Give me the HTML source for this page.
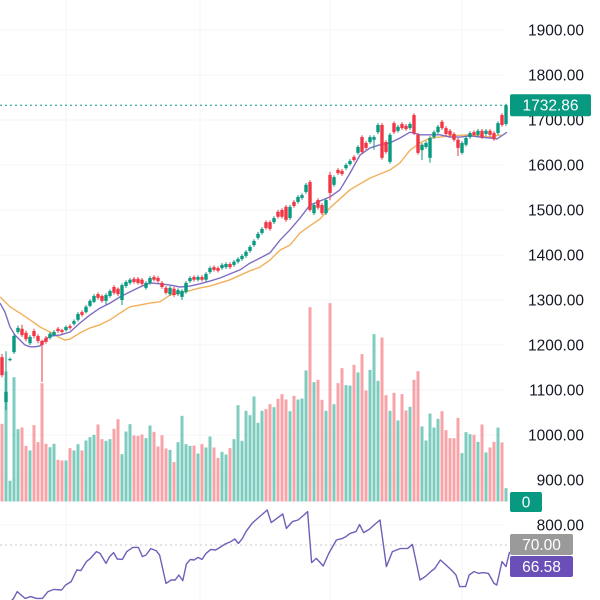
<!DOCTYPE html>
<html><head><meta charset="utf-8">
<style>
html,body{margin:0;padding:0;background:#fff;}
#wrap{position:relative;width:600px;height:600px;overflow:hidden;font-family:"Liberation Sans",sans-serif;}
svg{position:absolute;left:0;top:0;}
</style></head>
<body>
<div id="wrap">
<svg id="chart" width="600" height="600"></svg>
</div>
<script>
const opens=[1173,1073,1167,1184,1229,1236,1227,1204,1231,1220,1209,1216,1216,1222,1236,1233,1233,1242,1247,1256,1273,1273,1287,1296,1313,1309,1298,1309,1329,1325,1300,1331,1338,1347,1347,1345,1327,1338,1351,1349,1338,1327,1313,1325,1313,1307,1318,1342,1351,1345,1351,1345,1362,1373,1371,1371,1373,1380,1378,1385,1391,1398,1409,1422,1438,1449,1473,1473,1473,1496,1500,1507,1482,1518,1518,1527,1540,1562,1493,1522,1511,1493,1578,1556,1589,1587,1593,1602,1618,1627,1662,1649,1651,1656,1673,1689,1651,1607,1693,1676,1691,1687,1682,1711,1667,1633,1640,1616,1662,1673,1696,1682,1676,1669,1656,1627,1645,1662,1673,1667,1676,1669,1676,1671,1671,1711,1691];
const closes=[1133,1096,1169,1220,1238,1222,1213,1218,1220,1209,1200,1207,1225,1229,1231,1229,1240,1238,1253,1269,1267,1285,1298,1309,1305,1298,1311,1320,1316,1313,1333,1340,1345,1340,1338,1336,1338,1349,1345,1342,1329,1316,1327,1311,1322,1320,1338,1349,1345,1351,1345,1358,1371,1367,1365,1378,1380,1373,1385,1391,1398,1407,1418,1431,1447,1458,1460,1458,1482,1485,1485,1478,1507,1509,1529,1533,1556,1500,1511,1505,1493,1522,1538,1573,1582,1580,1600,1609,1611,1640,1629,1638,1662,1662,1689,1616,1629,1667,1673,1685,1682,1680,1691,1671,1627,1645,1649,1660,1673,1685,1682,1669,1667,1656,1638,1649,1660,1671,1667,1676,1662,1676,1667,1658,1693,1689,1732.86];
const highs=[1180,1186,1172,1224,1243,1245,1232,1222,1236,1224,1212,1220,1229,1233,1240,1236,1244,1246,1257,1273,1277,1289,1302,1313,1317,1312,1315,1324,1333,1328,1337,1344,1349,1351,1351,1349,1342,1353,1355,1353,1342,1331,1331,1329,1326,1324,1342,1353,1355,1355,1355,1362,1375,1377,1375,1382,1384,1384,1389,1395,1402,1411,1422,1435,1451,1462,1477,1477,1486,1500,1504,1511,1511,1522,1533,1537,1560,1566,1515,1526,1515,1526,1585,1577,1593,1591,1604,1613,1622,1644,1666,1653,1666,1666,1693,1693,1655,1671,1697,1689,1695,1691,1695,1715,1671,1649,1653,1664,1677,1689,1700,1686,1680,1673,1660,1653,1664,1675,1677,1680,1680,1680,1680,1675,1697,1715,1736];
const lows=[1128,1055,1164,1180,1225,1218,1208,1200,1215,1204,1118,1203,1212,1219,1227,1225,1230,1234,1243,1252,1263,1270,1284,1293,1301,1294,1290,1305,1312,1309,1289,1327,1334,1336,1334,1332,1323,1334,1341,1338,1325,1312,1309,1307,1309,1300,1314,1338,1341,1341,1341,1341,1358,1363,1361,1367,1369,1369,1374,1381,1387,1394,1405,1418,1434,1445,1456,1454,1469,1481,1481,1474,1478,1505,1514,1523,1536,1496,1489,1501,1489,1489,1522,1552,1578,1576,1589,1598,1607,1623,1625,1634,1647,1634,1669,1612,1625,1603,1669,1672,1678,1676,1678,1667,1623,1611,1636,1605,1658,1669,1678,1665,1663,1652,1620,1623,1641,1658,1663,1663,1658,1665,1663,1654,1667,1685,1687];
const volumes=[233,390,62,373,217,222,167,153,229,178,355,173,163,173,125,123,123,160,153,172,153,183,193,200,231,187,182,187,218,247,142,210,232,198,197,201,190,228,209,165,199,159,155,118,178,257,172,167,168,144,172,162,195,162,131,149,141,160,187,289,182,272,259,315,236,272,277,292,283,308,322,306,271,317,306,309,393,583,358,365,305,272,595,292,355,400,349,348,410,387,442,333,395,502,362,492,319,272,326,243,322,273,284,365,391,225,183,264,222,248,271,214,190,190,251,145,208,202,200,179,231,147,162,179,222,177,40];
const maFastIdx=[-0.5,0.75,2,3.25,4.5,5.75,7,8.25,9.5,10.75,12,14.5,17,19.5,22,24.5,27,29.5,32,34.5,37,39.5,42,44.5,47,49.5,52,54.5,57,59.5,62,64.5,67,69.5,72,74.5,77,79.5,82,84.5,87,89.5,92,94.5,97,99.5,102,104.5,107,109.5,112,114.5,117,119.5,122,123.75,126.25];
const maFast=[1293,1273,1240,1222,1211,1200,1196,1196,1198,1211,1220,1222,1229,1249,1267,1282,1293,1307,1318,1329,1338,1336,1333,1329,1331,1336,1342,1349,1358,1367,1382,1393,1405,1433,1456,1482,1511,1520,1529,1545,1582,1622,1638,1645,1649,1660,1673,1667,1667,1667,1662,1662,1665,1662,1660,1658,1673];
const maSlowIdx=[-0.5,2,4.5,7,9.5,12,14.5,15.75,17,19.5,22,24.5,27,29.5,32,34.5,37,39.5,42,45.75,49.5,52,57,62,64.5,67,69.5,72,74.5,77,79.5,82,84.5,87,89.5,92,94.5,97,99.5,102,104.5,107,109.5,112,117,122,124.75];
const maSlow=[1307,1285,1271,1256,1240,1229,1216,1211,1213,1227,1238,1245,1256,1271,1285,1289,1293,1296,1311,1318,1327,1331,1345,1365,1373,1389,1411,1422,1449,1465,1480,1505,1525,1545,1558,1571,1580,1589,1605,1633,1649,1660,1662,1665,1667,1662,1667];
const rsiIdx=[-0.5,2.9,3.8,5.75,7.2,8.6,10.1,11.5,13,14.9,15.9,17.3,18.7,19.7,21.1,22.1,23.6,24.5,26,26.9,27.9,28.8,30.1,31.2,32.7,34.1,35.1,36,37.2,38.5,39.4,41,42.3,43.3,44.2,45.2,46.1,47.1,48,49,50,51,52.2,53.4,54.8,55.8,57.2,58.2,59.1,60.1,61,62.5,63.9,64.9,66.3,67.3,68.7,70.2,71.1,72.6,74,75.5,76.4,77.4,78.6,80.3,81.7,83.6,85.1,86,87,88.5,89.4,90.4,91.8,93.3,94.5,96.1,97.6,99.5,101.4,102.6,104.5,105.8,107.2,108.2,109.6,111,112.5,113.5,114.4,115.9,116.8,118,119.2,120.2,121.6,123,123.7,125,126,126.9];
const rsiVal=[36,43.3,46.7,43.3,44.2,43.3,43.3,46.7,47.8,47.5,50,51.7,57.5,57.2,61.7,63.3,66.7,65.8,60.8,64.2,66.2,63,62.8,66.7,68.8,68.8,64.2,65,68.2,67.2,65,50.8,52.5,52.5,55,52.2,60.5,62.8,62.5,63.8,62.8,65.8,67.8,67.5,69.2,70.5,71.7,73,70.8,73.3,76.7,80.8,83.3,85,87.5,81.2,83.3,85.5,78.3,81.7,82.5,85,86.7,61.2,63.3,59.5,65.8,72.5,73.3,74.2,75.8,76.7,80.2,76.2,77.8,80.5,82.5,59.2,66.7,68.2,68.3,70.3,52.5,54.2,56.7,58.3,62.5,60,57.2,55,49.2,49.2,55,56.7,55.8,56.2,55.8,50.8,50,61.7,59.2,66.58];
const priceTicks=[1900,1800,1700,1600,1500,1400,1300,1200,1100,1000,900,800];
const lastPrice=1732.86;

const NS="http://www.w3.org/2000/svg";
const svg=document.getElementById('chart');
const xOf=i=>2+4*i;
const yOf=p=>120-(p-1700)*0.45;
const volBase=501.5;
const yVol=v=>volBase-v/3;
const yRsi=r=>545-(r-70)*2;
const UP="#089981",DN="#f23645",UPV="#7ccdbf",DNV="#f7a3a8";
function mk(tag,attrs,parent){const e=document.createElementNS(NS,tag);for(const k in attrs)e.setAttribute(k,attrs[k]);(parent||svg).appendChild(e);return e;}

const grid=mk('g',{});


priceTicks.forEach(p=>{mk('line',{x1:0,x2:505,y1:yOf(p),y2:yOf(p),stroke:"#f4f4f6","stroke-width":1},grid);});
[66,200,330,462].forEach(x=>{mk('line',{x1:x,x2:x,y1:0,y2:600,stroke:"#f4f4f6","stroke-width":1},grid);});

const volG=mk('g',{});


volumes.forEach((v,i)=>{
  const up=closes[i]>=opens[i];
  const r=mk('rect',{x:xOf(i)-1.5,y:yVol(v),width:3,height:v/3,fill:up?UPV:DNV},volG);
  
  
});

function line(idx,vals,color,name){
  const d=idx.map((k,j)=>(j?'L':'M')+xOf(k).toFixed(1)+' '+yOf(vals[j]).toFixed(1)).join(' ');
  const p=mk('path',{d:d,fill:'none',stroke:color,'stroke-width':1.4,'stroke-linejoin':'round'});
  
  
}
line(maSlowIdx,maSlow,"#f2b15c",'ma-slow-line');
line(maFastIdx,maFast,"#7f6cc4",'ma-fast-line');

const cg=mk('g',{});


opens.forEach((o,i)=>{
  const c=closes[i],up=c>=o,col=up?UP:DN,x=xOf(i);
  const g=mk('g',{},cg);
  
  
  mk('line',{x1:x,x2:x,y1:yOf(highs[i]),y2:yOf(lows[i]),stroke:col,'stroke-width':1},g);
  const t=yOf(Math.max(o,c)),b=yOf(Math.min(o,c));
  mk('rect',{x:x-1.7,y:t,width:3.4,height:Math.max(1.2,b-t),fill:col},g);
});

const lp=mk('line',{x1:0,x2:508,y1:yOf(lastPrice),y2:yOf(lastPrice),stroke:UP,'stroke-width':1,'stroke-dasharray':'2 3'});



const rl=mk('line',{x1:0,x2:508,y1:yRsi(70),y2:yRsi(70),stroke:"#c8c8c8",'stroke-width':1,'stroke-dasharray':'2 3'});


const rd=rsiIdx.map((k,j)=>(j?'L':'M')+xOf(k).toFixed(1)+' '+yRsi(rsiVal[j]).toFixed(1)).join(' ');
const rp=mk('path',{d:rd,fill:'none',stroke:"#6f5fb8",'stroke-width':1.4,'stroke-linejoin':'round'});



const ax=mk('g',{});


priceTicks.forEach(p=>{
  const t=mk('text',{x:584,y:yOf(p)+5.5,'text-anchor':'end','font-size':15.5,'font-weight':500,fill:'#131722','font-family':'Liberation Sans, sans-serif'},ax);
  t.textContent=p.toFixed(2);
  
  
});
function badge(x,y,w,h,bg,txt,name){
  const g=mk('g',{});
  
  
  mk('rect',{x:x,y:y,width:w,height:h,rx:2,fill:bg},g);
  const t=mk('text',{x:x+w/2,y:y+h/2+5.5,'text-anchor':'middle','font-size':15.5,'font-weight':500,fill:'#fff','font-family':'Liberation Sans, sans-serif'},g);
  t.textContent=txt;
}
badge(510,yOf(lastPrice)-11,81,22,UP,lastPrice.toFixed(2),'last-price-badge');
badge(510,492,32,20,UP,'0','volume-badge');
badge(510,534,63,21,'#9a9a9a','70.00','rsi-level-badge');
badge(510,556,63,21,'#6a4fb8',rsiVal[rsiVal.length-1].toFixed(2),'rsi-value-badge');
</script>
</body></html>
